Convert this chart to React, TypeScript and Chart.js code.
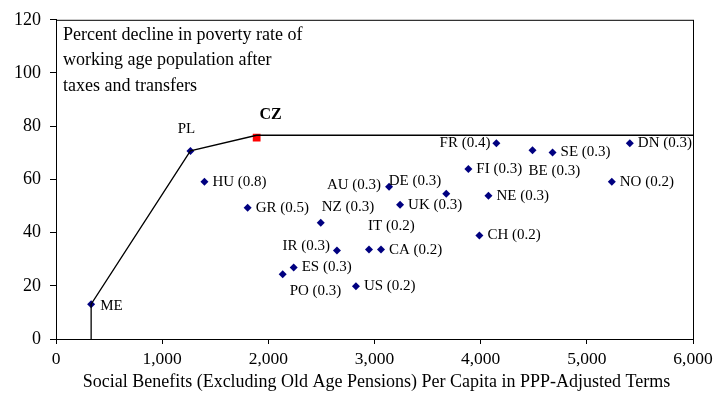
import React, { useEffect, useRef } from "react";
import { Chart, registerables } from "chart.js";
Chart.register(...registerables);

const countries = ["ME","PL","HU","GR","NZ","IR","ES","PO","US","AU","UK","IT","CA","DE","FI","FR","BE","SE","NE","CH","NO","DN"];
const benefits = [331,1266,1398,1805,2494,2646,2239,2135,2825,3137,3241,2948,3061,3676,3884,4148,4488,4677,4073,3988,5235,5405];
const decline = [13.1,70.7,59.1,49.3,43.7,33.3,26.9,24.3,19.8,57.2,50.5,33.6,33.6,54.6,63.9,73.6,71.0,70.1,53.9,38.9,59.1,73.6];
const ratios = ["","","0.8","0.5","0.3","0.3","0.3","0.3","0.2","0.3","0.3","0.2","0.2","0.3","0.3","0.4","0.3","0.3","0.3","0.2","0.2","0.3"];
const czName = "CZ";
const czX = [1890];
const czY = [75.7];
const frontierX = [331, 331, 1266, 1890, 6000];
const frontierY = [0, 13.1, 70.7, 76.6, 76.6];
const xTicks = [0,1000,2000,3000,4000,5000,6000];
const yTicks = [0,20,40,60,80,100,120];
const noteLines = ["Percent decline in poverty rate of","working age population after","taxes and transfers"];
const xTitle = "Social Benefits (Excluding Old Age Pensions) Per Capita in PPP-Adjusted Terms";

// label placement: [dx, dy, align]
const place: Record<string, [number, number, CanvasTextAlign]> = {
  ME: [9, 2, "left"], PL: [-4, -22, "center"], NZ: [1, -16, "left"], IR: [-7, -4, "right"],
  IT: [-1, -24, "left"], PO: [7, 17, "left"], AU: [-8, -2, "right"], DE: [-5, -13, "right"],
  FR: [-6, 0, "right"], BE: [-4, 21, "left"],
};

const FONT = "'Liberation Serif', 'DejaVu Serif', serif";

export default function App() {
  const ref = useRef<HTMLCanvasElement>(null);
  useEffect(() => {
    document.body.style.margin = "0";
    const labelPlugin = {
      id: "labels",
      afterDraw(chart: any) {
        const ctx = chart.ctx as CanvasRenderingContext2D;
        const { left, top, right, bottom } = chart.chartArea;
        ctx.save();
        ctx.strokeStyle = "#000";
        ctx.lineWidth = 1;
        ctx.strokeRect(left + 0.5, top + 0.5, right - left, bottom - top);
        const meta = chart.getDatasetMeta(1);
        ctx.fillStyle = "#000";
        ctx.font = `15px ${FONT}`;
        ctx.textBaseline = "middle";
        meta.data.forEach((pt: any, i: number) => {
          const name = countries[i];
          const txt = ratios[i] ? `${name} (${ratios[i]})` : name;
          const p = place[name] || [8, 0, "left"];
          ctx.textAlign = p[2];
          ctx.fillText(txt, pt.x + p[0], pt.y + p[1]);
        });
        const cz = chart.getDatasetMeta(2).data[0];
        ctx.font = `bold 16px ${FONT}`;
        ctx.textAlign = "center";
        ctx.fillText(czName, cz.x + 14, cz.y - 23);
        ctx.font = `18px ${FONT}`;
        ctx.textAlign = "left";
        noteLines.forEach((l, i) => ctx.fillText(l, left + 7, top + 15 + i * 25.5));
        ctx.textAlign = "center";
        ctx.font = `18px ${FONT}`;
        ctx.fillText(xTitle, (left + right) / 2 + 2, 382);
        ctx.restore();
      },
    };
    const chart = new Chart(ref.current!, {
      type: "scatter",
      data: {
        datasets: [
          {
            data: frontierX.map((x, i) => ({ x, y: frontierY[i] })),
            showLine: true, borderColor: "#000", borderWidth: 1.3, pointRadius: 0,
          } as any,
          {
            data: benefits.map((x, i) => ({ x, y: decline[i] })),
            pointStyle: "rectRot", pointRadius: 4, backgroundColor: "#000080", borderColor: "#000080", borderWidth: 0,
          },
          {
            data: czX.map((x, i) => ({ x, y: czY[i] })),
            pointStyle: "rect", pointRadius: 5.5, backgroundColor: "#ff0000", borderColor: "#ff0000", borderWidth: 0,
          },
        ],
      },
      options: {
        animation: false,
        responsive: false,
        layout: { padding: { top: 18, right: 21, left: 0, bottom: 0 } },
        plugins: { legend: { display: false }, tooltip: { enabled: false } },
        scales: {
          x: {
            type: "linear", min: 0, max: 6000,
            afterBuildTicks: (a: any) => { a.ticks = xTicks.map((v) => ({ value: v })); },
            afterFit: (a: any) => { a.height = 75; a.paddingRight = 0; a.paddingLeft = 0; },
            grid: { drawOnChartArea: false, tickLength: 5, color: "#000" },
            border: { color: "#000" },
            ticks: { color: "#000", font: { family: FONT, size: 17.5 }, padding: 5, callback: (v: any) => Number(v).toLocaleString("en-US") },
          },
          y: {
            min: 0, max: 120,
            afterBuildTicks: (a: any) => { a.ticks = yTicks.map((v) => ({ value: v })); },
            afterFit: (a: any) => { a.width = 56; },
            grid: { drawOnChartArea: false, tickLength: 6, color: "#000" },
            border: { color: "#000" },
            ticks: { color: "#000", font: { family: FONT, size: 18 }, padding: 9 },
          },
        },
      },
      plugins: [labelPlugin],
    } as any);
    return () => chart.destroy();
  }, []);
  return <canvas ref={ref} width={714} height={414} style={{ display: "block" }} />;
}
